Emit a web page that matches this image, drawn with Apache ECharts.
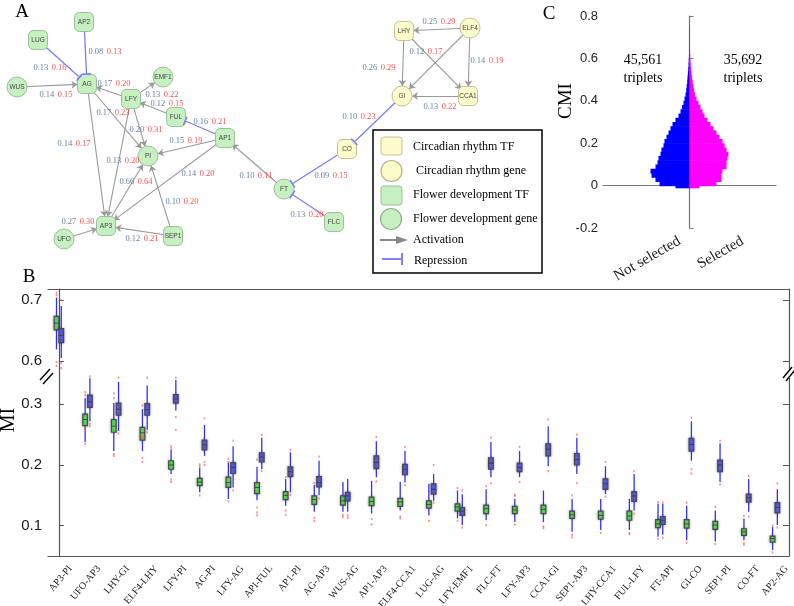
<!DOCTYPE html>
<html>
<head>
<meta charset="utf-8">
<script src="https://cdn.jsdelivr.net/npm/echarts@6/dist/echarts.min.js"></script>
<style>
  html, body { margin: 0; padding: 0; background: #fff; }
  #main { width: 794px; height: 606px; }
</style>
</head>
<body>
<div id="main"></div>
<script>
// ---- panel B : MI boxplots ----
var categories = ['AP3-PI', 'UFO-AP3', 'LHY-GI', 'ELF4-LHY', 'LFY-PI', 'AG-PI', 'LFY-AG', 'API-FUL', 'AP1-PI', 'AG-AP3',
  'WUS-AG', 'AP1-AP3', 'ELF4-CCA1', 'LUG-AG', 'LFY-EMF1', 'FLC-FT', 'LFY-AP3', 'CCA1-GI', 'SEP1-AP3', 'LHY-CCA1',
  'FUL-LFY', 'FT-API', 'GI-CO', 'SEP1-PI', 'CO-FT', 'AP2-AG'];

// [low whisker, q1, median, q3, high whisker]
var greenBoxes = [
  [0.619, 0.651, 0.662, 0.673, 0.704], [0.238, 0.265, 0.275, 0.284, 0.310], [0.223, 0.254, 0.264, 0.275, 0.302],
  [0.223, 0.241, 0.253, 0.262, 0.292], [0.185, 0.193, 0.200, 0.207, 0.226], [0.155, 0.166, 0.172, 0.178, 0.196],
  [0.144, 0.163, 0.171, 0.180, 0.204], [0.142, 0.153, 0.163, 0.171, 0.197], [0.133, 0.143, 0.150, 0.156, 0.177],
  [0.123, 0.135, 0.143, 0.149, 0.167], [0.123, 0.134, 0.141, 0.149, 0.172], [0.120, 0.133, 0.140, 0.147, 0.174],
  [0.125, 0.132, 0.139, 0.145, 0.172], [0.117, 0.129, 0.135, 0.141, 0.169], [0.112, 0.124, 0.131, 0.136, 0.158],
  [0.109, 0.120, 0.128, 0.134, 0.160], [0.106, 0.120, 0.126, 0.132, 0.144], [0.106, 0.120, 0.127, 0.134, 0.158],
  [0.090, 0.112, 0.118, 0.124, 0.144], [0.093, 0.111, 0.117, 0.124, 0.144], [0.093, 0.109, 0.116, 0.124, 0.144],
  [0.082, 0.097, 0.103, 0.110, 0.136], [0.076, 0.096, 0.103, 0.110, 0.133], [0.074, 0.094, 0.101, 0.107, 0.125],
  [0.076, 0.084, 0.090, 0.095, 0.112], [0.060, 0.073, 0.079, 0.083, 0.098]
];
var blueBoxes = [
  [0.605, 0.630, 0.642, 0.653, 0.690], [0.272, 0.295, 0.304, 0.315, 0.343], [0.256, 0.282, 0.292, 0.302, 0.337],
  [0.258, 0.282, 0.291, 0.301, 0.331], [0.290, 0.302, 0.309, 0.316, 0.340], [0.215, 0.225, 0.233, 0.241, 0.266],
  [0.163, 0.186, 0.196, 0.204, 0.231], [0.193, 0.205, 0.213, 0.220, 0.245], [0.155, 0.181, 0.189, 0.197, 0.221],
  [0.150, 0.164, 0.171, 0.181, 0.207], [0.123, 0.141, 0.149, 0.155, 0.177], [0.180, 0.194, 0.204, 0.215, 0.239],
  [0.171, 0.184, 0.193, 0.201, 0.223], [0.141, 0.152, 0.160, 0.169, 0.185], [0.101, 0.117, 0.124, 0.130, 0.152],
  [0.180, 0.193, 0.203, 0.212, 0.238], [0.180, 0.189, 0.196, 0.203, 0.223], [0.198, 0.215, 0.226, 0.235, 0.264],
  [0.185, 0.200, 0.209, 0.219, 0.245], [0.152, 0.160, 0.169, 0.177, 0.198], [0.125, 0.140, 0.149, 0.156, 0.185],
  [0.085, 0.102, 0.109, 0.115, 0.136], [0.207, 0.223, 0.234, 0.244, 0.272], [0.172, 0.189, 0.200, 0.208, 0.236],
  [0.123, 0.139, 0.146, 0.152, 0.177], [0.101, 0.121, 0.130, 0.138, 0.160]
];
// [category index, value]
var greenOutliers = [
  [0, 0.712], [0, 0.708], [0, 0.598], [0, 0.592], [1, 0.315], [1, 0.320], [1, 0.262], [1, 0.258], [1, 0.235],
  [2, 0.310], [2, 0.318], [2, 0.218], [2, 0.215], [3, 0.298], [3, 0.247], [3, 0.244], [3, 0.212], [3, 0.205],
  [4, 0.231], [4, 0.228], [4, 0.176], [4, 0.172], [5, 0.201], [5, 0.198], [5, 0.150], [6, 0.205], [6, 0.210], [6, 0.140],
  [7, 0.209], [7, 0.130], [7, 0.122], [7, 0.117], [8, 0.180], [8, 0.125], [8, 0.118], [9, 0.170], [9, 0.113], [9, 0.108],
  [10, 0.118], [10, 0.114], [11, 0.111], [11, 0.102], [12, 0.115], [12, 0.112], [13, 0.108], [14, 0.162], [14, 0.108],
  [15, 0.165], [15, 0.101], [16, 0.151], [16, 0.149], [16, 0.102], [17, 0.099], [17, 0.096], [18, 0.150], [18, 0.085],
  [18, 0.081], [19, 0.088], [20, 0.088], [20, 0.086], [21, 0.139], [21, 0.078], [22, 0.138], [22, 0.072], [23, 0.131],
  [23, 0.070], [24, 0.116], [24, 0.071], [24, 0.069], [25, 0.100], [25, 0.056]
];
var blueOutliers = [
  [0, 0.700], [0, 0.597], [0, 0.588], [1, 0.346], [1, 0.268], [1, 0.264], [2, 0.344], [2, 0.252], [3, 0.344], [3, 0.254],
  [4, 0.344], [4, 0.279], [4, 0.258], [5, 0.277], [5, 0.205], [5, 0.200], [6, 0.240], [6, 0.158], [7, 0.250], [7, 0.190],
  [8, 0.225], [8, 0.151], [9, 0.214], [9, 0.145], [10, 0.117], [10, 0.113], [11, 0.246], [11, 0.173], [12, 0.230], [12, 0.167],
  [13, 0.200], [13, 0.138], [14, 0.158], [14, 0.097], [15, 0.245], [15, 0.170], [16, 0.230], [16, 0.172], [17, 0.275], [17, 0.190],
  [18, 0.250], [18, 0.170], [19, 0.205], [19, 0.148], [20, 0.190], [20, 0.120], [21, 0.138], [21, 0.080], [22, 0.278], [22, 0.193],
  [22, 0.186], [23, 0.240], [23, 0.168], [24, 0.182], [24, 0.115], [25, 0.170], [25, 0.097]
];
var upperTicks = [0.6, 0.7];
var lowerTicks = [0.1, 0.2, 0.3];

// ---- panel C : CMI distributions ----
var cmiBinStart = [-0.01, 0, 0.02, 0.04, 0.06, 0.08, 0.10, 0.12, 0.14, 0.16, 0.18, 0.20, 0.22, 0.24, 0.26, 0.28, 0.30, 0.32, 0.34,
  0.36, 0.38, 0.40, 0.42, 0.44, 0.46, 0.48, 0.50, 0.52, 0.54, 0.56, 0.58, 0.60, 0.62, 0.64, 0.66, 0.68, 0.70, 0.72, 0.74];
var notSelectedDensity = [14, 30, 34, 38, 39, 34, 32, 31, 29, 28, 26, 25, 23, 21, 19, 17, 14, 11, 9,
  7.5, 6, 5, 4, 3.3, 2.8, 2.3, 2, 1.6, 1.3, 1, 0.8, 0.6, 0.5, 0.4, 0.35, 0.3, 0.25, 0.2, 0.15];
var selectedDensity = [10, 27, 32, 32, 33, 37, 37, 38, 39, 37, 35, 33, 30, 27, 24, 21, 18, 15, 13,
  11, 9, 7, 5.5, 4.5, 4, 3.2, 2.6, 2.1, 1.7, 1.3, 1, 0.8, 0.6, 0.5, 0.4, 0.3, 0.2, 0.1, 0];
var cGroups = ['Not selected', 'Selected'];
var cGroupAt = [-10, 53];
var cCounts = ['45,561', '35,692'];

// ---- panel A : network ----
var nodeNames = ['AP2', 'LUG', 'WUS', 'AG', 'EMF1', 'LFY', 'FUL', 'AP1', 'PI', 'AP3', 'UFO', 'SEP1',
  'LHY', 'ELF4', 'GI', 'CCA1', 'CO', 'FT', 'FLC'];
// ftf: flower development TF, fgene: flower development gene, ctf / cgene: circadian rhythm
var nodeKinds = ['ftf', 'ftf', 'fgene', 'ftf', 'fgene', 'ftf', 'ftf', 'ftf', 'fgene', 'ftf', 'fgene', 'ftf',
  'ctf', 'cgene', 'cgene', 'ctf', 'ctf', 'fgene', 'ftf'];
var nodePos = [[84, 22], [38, 40], [17, 87], [87, 84], [163, 77], [131, 99], [176, 117], [225, 138], [148, 156],
  [106, 226], [64, 239], [173, 236], [404, 31], [470, 28], [402, 96], [468, 96], [347, 149], [284, 189], [334, 222]];
// [source, target, type, MI, CMI]
var edges = [
  ['LUG', 'AG', 'rep', 0.13, 0.16], ['AP2', 'AG', 'rep', 0.08, 0.13], ['WUS', 'AG', 'act', 0.14, 0.15],
  ['LFY', 'AG', 'act', 0.17, 0.20], ['LFY', 'EMF1', 'act', 0.13, 0.22], ['FUL', 'LFY', 'act', 0.12, 0.15],
  ['AP1', 'FUL', 'rep', 0.16, 0.21], ['AG', 'PI', 'act', 0.17, 0.23], ['LFY', 'AP3', 'act', 0.13, 0.20],
  ['LFY', 'PI', 'act', 0.20, 0.31], ['AG', 'AP3', 'act', 0.14, 0.17], ['AP1', 'PI', 'act', 0.15, 0.19],
  ['AP3', 'PI', 'act', 0.66, 0.64], ['AP1', 'AP3', 'act', 0.14, 0.20], ['SEP1', 'PI', 'act', 0.10, 0.20],
  ['UFO', 'AP3', 'act', 0.27, 0.30], ['SEP1', 'AP3', 'act', 0.12, 0.21], ['FT', 'AP1', 'act', 0.10, 0.11],
  ['CO', 'FT', 'rep', 0.09, 0.15], ['FLC', 'FT', 'rep', 0.13, 0.20], ['GI', 'CO', 'rep', 0.10, 0.23],
  ['ELF4', 'LHY', 'act', 0.25, 0.29], ['LHY', 'GI', 'act', 0.26, 0.29], ['LHY', 'CCA1', 'act', 0.12, 0.17],
  ['ELF4', 'GI', 'act', null, null], ['ELF4', 'CCA1', 'act', 0.14, 0.19], ['CCA1', 'GI', 'act', 0.13, 0.22]
];
// label shift from the edge midpoint
var edgeLabelShift = [
  [-12.5, 6], [19.5, -1], [4, 9.5], [5, -7.5], [15, 7], [13.5, -4], [9.5, -5.5], [-4.5, -7], [4.5, -1.5],
  [6.5, 2.5], [-22.5, -11], [-0.5, -6], [9, -9], [32.5, -8], [21.5, 6], [-7, -10.5], [2.5, 8], [1.5, 12.5],
  [15.5, 7], [-2, 9.5], [-15.5, -5.5], [2, -7.5], [-24, 4.5], [-10, -11.5], null, [18, -1], [5, 11]
];

var SERIF = 'Liberation Serif';
var SANS = 'Liberation Sans';
var REP_COLOR = '#7c7cf7';

function boxRenderer(shift, fill) {
  return function (params, api) {
    var i = api.value(0);
    var band = api.size([1, 0])[0];
    var cx = api.coord([i, 0])[0] + shift * band;
    var half = band * 0.082;
    var yLo = api.coord([i, api.value(1)])[1];
    var yQ1 = api.coord([i, api.value(2)])[1];
    var yMed = api.coord([i, api.value(3)])[1];
    var yQ3 = api.coord([i, api.value(4)])[1];
    var yHi = api.coord([i, api.value(5)])[1];
    return {
      type: 'group',
      children: [
        { type: 'line', shape: { x1: cx, y1: yHi, x2: cx, y2: yLo }, style: { stroke: '#3030ff', lineWidth: 1.3 } },
        { type: 'rect', shape: { x: cx - half, y: yQ3, width: half * 2, height: yQ1 - yQ3 },
          style: { fill: fill, stroke: '#4a4a4a', lineWidth: 1.2, shadowBlur: 3, shadowColor: 'rgba(0,0,0,0.35)' } },
        { type: 'line', shape: { x1: cx - half, y1: yMed, x2: cx + half, y2: yMed }, style: { stroke: '#333', lineWidth: 0.8 } }
      ]
    };
  };
}

function violinRenderer(dir, color) {
  return function (params, api) {
    var a = api.coord([0, api.value(1)]);
    var b = api.coord([dir * api.value(2), api.value(0)]);
    return { type: 'rect', shape: { x: Math.min(a[0], b[0]), y: a[1], width: Math.abs(b[0] - a[0]), height: b[1] - a[1] + 0.6 },
      style: { fill: color } };
  };
}

// T-bar at the end of a repression edge
function tbarRenderer(params, api) {
  var p0 = api.coord([api.value(0), api.value(1)]);
  var p1 = api.coord([api.value(2), api.value(3)]);
  var dx = p1[0] - p0[0], dy = p1[1] - p0[1];
  var len = Math.sqrt(dx * dx + dy * dy);
  var ux = dx / len, uy = dy / len;
  var ex = p1[0] - ux * 10, ey = p1[1] - uy * 10;
  return { type: 'line', shape: { x1: ex - uy * 4.5, y1: ey + ux * 4.5, x2: ex + uy * 4.5, y2: ey - ux * 4.5 },
    style: { stroke: REP_COLOR, lineWidth: 1.5 } };
}

function boxData(boxes, upper) {
  var out = [];
  boxes.forEach(function (b, i) {
    if ((b[2] > 0.5) === upper) out.push([i].concat(b));
  });
  return out;
}
function outlierData(points, shift, upper) {
  return points.filter(function (p) { return (p[1] > 0.5) === upper; })
    .map(function (p) { return [p[0] + shift, p[1]]; });
}

var bins = cmiBinStart.map(function (s, k) {
  return k < cmiBinStart.length - 1 ? [s, cmiBinStart[k + 1]] : [s, s + 0.02];
});

var nodeStyle = {
  ftf: { symbol: 'roundRect', size: [19, 19], fill: '#c6f0c1', stroke: '#9dbf98' },
  fgene: { symbol: 'circle', size: 20, fill: '#c6f0c1', stroke: '#9dbf98' },
  ctf: { symbol: 'roundRect', size: [19, 19], fill: '#fdfbc9', stroke: '#c4c197' },
  cgene: { symbol: 'circle', size: 20, fill: '#fdfbc9', stroke: '#c4c197' }
};

function posOf(name) { return nodePos[nodeNames.indexOf(name)]; }

var edgeLabelData = [];
var tbarData = [];
edges.forEach(function (e, k) {
  var a = posOf(e[0]), b = posOf(e[1]);
  if (e[2] === 'rep') tbarData.push([a[0], a[1], b[0], b[1]]);
  if (e[3] == null) return;
  var s = edgeLabelShift[k];
  edgeLabelData.push([(a[0] + b[0]) / 2 + s[0], (a[1] + b[1]) / 2 + s[1], k]);
});

var frame = { show: true, lineStyle: { color: '#555', width: 1.2 } };
var tickLbl = { fontFamily: SANS, fontSize: 15, color: '#1a1a1a', margin: 6 };

var chart = echarts.init(document.getElementById('main'));
chart.setOption({
  animation: false,
  backgroundColor: '#fff',
  grid: [
    { left: 48, right: 5, top: 289, height: 86, outerBoundsMode: 'none', containLabel: false },
    { left: 48, right: 5, top: 375, height: 181, outerBoundsMode: 'none', containLabel: false },
    { left: 603, right: 18, top: 16, height: 212, outerBoundsMode: 'none', containLabel: false },
    { left: 0, top: 0, width: 794, height: 606, outerBoundsMode: 'none', containLabel: false }
  ],
  xAxis: [
    { gridIndex: 0, type: 'value', min: -0.38, max: 25.49, position: 'top', axisLine: frame,
      axisTick: { show: false }, axisLabel: { show: false }, splitLine: { show: false } },
    { gridIndex: 1, type: 'value', min: -0.38, max: 25.49, position: 'bottom', axisLine: frame,
      axisTick: { show: false }, splitLine: { show: false },
      axisLabel: { show: true, customValues: categories.map(function (c, i) { return i + 0.4; }),
        formatter: function (v) { return categories[Math.round(v - 0.4)] || ''; },
        rotate: 50, margin: 11, fontFamily: SERIF, fontSize: 10, color: '#222', hideOverlap: false } },
    { gridIndex: 2, type: 'value', min: -86.5, max: 86.5, axisLine: { show: true, lineStyle: { color: '#777', width: 1.2 } },
      axisTick: { customValues: [0], inside: true, length: 4, lineStyle: { color: '#777' } }, splitLine: { show: false },
      axisLabel: { show: true, customValues: cGroupAt,
        formatter: function (v) { return cGroups[cGroupAt.indexOf(Math.round(v))] || ''; },
        rotate: 30, margin: 12, fontFamily: SERIF, fontSize: 15, color: '#222', hideOverlap: false } },
    { gridIndex: 3, type: 'value', min: 0, max: 794, show: false }
  ],
  yAxis: [
    { gridIndex: 0, type: 'value', min: 0.577, max: 0.718, axisLine: frame, splitLine: { show: false },
      axisTick: { customValues: upperTicks, inside: true, length: 5, lineStyle: { color: '#555' } },
      axisLabel: Object.assign({ customValues: upperTicks }, tickLbl) },
    { gridIndex: 0, type: 'value', min: 0.577, max: 0.718, position: 'right', axisLine: frame, splitLine: { show: false },
      axisTick: { customValues: upperTicks, inside: true, length: 6, lineStyle: { color: '#555' } }, axisLabel: { show: false } },
    { gridIndex: 1, type: 'value', min: 0.0501, max: 0.3483, axisLine: frame, splitLine: { show: false },
      axisTick: { customValues: lowerTicks, inside: true, length: 5, lineStyle: { color: '#555' } },
      axisLabel: Object.assign({ customValues: lowerTicks }, tickLbl) },
    { gridIndex: 1, type: 'value', min: 0.0501, max: 0.3483, position: 'right', axisLine: frame, splitLine: { show: false },
      axisTick: { customValues: lowerTicks, inside: true, length: 6, lineStyle: { color: '#555' } }, axisLabel: { show: false } },
    { gridIndex: 2, type: 'value', min: -0.2, max: 0.8, interval: 0.2, splitLine: { show: false },
      axisLine: { show: true, lineStyle: { color: '#777', width: 1.2 } },
      axisTick: { inside: true, length: 4, lineStyle: { color: '#777' } },
      axisLabel: { fontFamily: SANS, fontSize: 13, color: '#222', margin: 5,
        formatter: function (v) { return String(Math.round(v * 10) / 10); } } },
    { gridIndex: 3, type: 'value', min: 0, max: 606, inverse: true, show: false }
  ],
  series: [
    // B upper part
    { type: 'custom', xAxisIndex: 0, yAxisIndex: 0, clip: true, renderItem: boxRenderer(-0.083, '#5be65b'),
      encode: { x: 0, y: [1, 2, 3, 4, 5] }, data: boxData(greenBoxes, true), z: 3 },
    { type: 'custom', xAxisIndex: 0, yAxisIndex: 0, clip: true, renderItem: boxRenderer(0.083, '#5f5ff5'),
      encode: { x: 0, y: [1, 2, 3, 4, 5] }, data: boxData(blueBoxes, true), z: 3 },
    { type: 'scatter', xAxisIndex: 0, yAxisIndex: 0, symbol: 'rect', symbolSize: [1.6, 2.2],
      itemStyle: { color: '#ff5050', opacity: 0.65 }, data: outlierData(greenOutliers, -0.083, true), z: 4 },
    { type: 'scatter', xAxisIndex: 0, yAxisIndex: 0, symbol: 'rect', symbolSize: [1.6, 2.2],
      itemStyle: { color: '#ff5050', opacity: 0.65 }, data: outlierData(blueOutliers, 0.083, true), z: 4 },
    // B lower part
    { type: 'custom', xAxisIndex: 1, yAxisIndex: 2, clip: true, renderItem: boxRenderer(-0.083, '#5be65b'),
      encode: { x: 0, y: [1, 2, 3, 4, 5] }, data: boxData(greenBoxes, false), z: 3 },
    { type: 'custom', xAxisIndex: 1, yAxisIndex: 2, clip: true, renderItem: boxRenderer(0.083, '#5f5ff5'),
      encode: { x: 0, y: [1, 2, 3, 4, 5] }, data: boxData(blueBoxes, false), z: 3 },
    { type: 'scatter', xAxisIndex: 1, yAxisIndex: 2, symbol: 'rect', symbolSize: [1.6, 2.2],
      itemStyle: { color: '#ff5050', opacity: 0.65 }, data: outlierData(greenOutliers, -0.083, false), z: 4 },
    { type: 'scatter', xAxisIndex: 1, yAxisIndex: 2, symbol: 'rect', symbolSize: [1.6, 2.2],
      itemStyle: { color: '#ff5050', opacity: 0.65 }, data: outlierData(blueOutliers, 0.083, false), z: 4 },
    // C
    { type: 'custom', xAxisIndex: 2, yAxisIndex: 4, renderItem: violinRenderer(-1, '#0000ff'),
      encode: { x: 2, y: [0, 1] },
      data: bins.map(function (b, k) { return [b[0], b[1], notSelectedDensity[k]]; }) },
    { type: 'custom', xAxisIndex: 2, yAxisIndex: 4, renderItem: violinRenderer(1, '#ff00ff'),
      encode: { x: 2, y: [0, 1] },
      data: bins.map(function (b, k) { return [b[0], b[1], selectedDensity[k]]; }) },
    // A network
    { type: 'graph', coordinateSystem: 'cartesian2d', xAxisIndex: 3, yAxisIndex: 5, silent: true, z: 5,
      data: nodeNames.map(function (n, i) {
        var st = nodeStyle[nodeKinds[i]];
        return { name: n, value: nodePos[i], symbol: st.symbol, symbolSize: st.size,
          itemStyle: { color: st.fill, borderColor: st.stroke, borderWidth: 1 } };
      }),
      links: edges.map(function (e) {
        var rep = e[2] === 'rep';
        return { source: e[0], target: e[1], symbol: ['none', rep ? 'none' : 'arrow'], symbolSize: [0, 6],
          lineStyle: { color: rep ? REP_COLOR : '#9a9a9a', width: rep ? 1.3 : 1.1, opacity: 1 } };
      }),
      label: { show: true, position: 'inside', fontFamily: SANS, fontSize: 6.5, color: '#444' },
      lineStyle: { curveness: 0 }
    },
    { type: 'custom', xAxisIndex: 3, yAxisIndex: 5, silent: true, z: 6, renderItem: tbarRenderer,
      encode: { x: [0, 2], y: [1, 3] }, data: tbarData },
    { type: 'scatter', xAxisIndex: 3, yAxisIndex: 5, silent: true, symbolSize: 1, z: 6,
      itemStyle: { color: 'transparent' },
      label: { show: true, position: 'inside',
        formatter: function (p) {
          var e = edges[p.value[2]];
          return '{a|' + e[3].toFixed(2) + '} {b|' + e[4].toFixed(2) + '}';
        },
        rich: { a: { fontFamily: SERIF, fontSize: 8.5, color: '#3d5f8f' }, b: { fontFamily: SERIF, fontSize: 8.5, color: '#ff2424' } } },
      data: edgeLabelData }
  ],
  graphic: [
    // panel letters
    { type: 'text', x: 22, y: 12, z: 100, style: { text: 'A', font: '19px "Liberation Serif"', fill: '#000', textAlign: 'center', textVerticalAlign: 'middle' } },
    { type: 'text', x: 29, y: 277, z: 100, style: { text: 'B', font: '19px "Liberation Serif"', fill: '#000', textAlign: 'center', textVerticalAlign: 'middle' } },
    { type: 'text', x: 549, y: 14, z: 100, style: { text: 'C', font: '19px "Liberation Serif"', fill: '#000', textAlign: 'center', textVerticalAlign: 'middle' } },
    // axis titles
    { type: 'text', x: 9, y: 420, rotation: Math.PI / 2, z: 100, style: { text: 'MI', font: '20px "Liberation Serif"', fill: '#000', textAlign: 'center', textVerticalAlign: 'middle' } },
    { type: 'text', x: 566, y: 101, rotation: Math.PI / 2, z: 100, style: { text: 'CMI', font: '19px "Liberation Serif"', fill: '#000', textAlign: 'center', textVerticalAlign: 'middle' } },
    // C counts
    { type: 'text', x: 643, y: 69, z: 100, style: { text: cCounts[0] + '\ntriplets', font: '14px "Liberation Serif"', fill: '#000', textAlign: 'center', textVerticalAlign: 'middle', lineHeight: 18 } },
    { type: 'text', x: 743, y: 69, z: 100, style: { text: cCounts[1] + '\ntriplets', font: '14px "Liberation Serif"', fill: '#000', textAlign: 'center', textVerticalAlign: 'middle', lineHeight: 18 } },
    // axis break marks
    { type: 'rect', z: 100, shape: { x: 44, y: 371, width: 9, height: 9 }, style: { fill: '#fff' } },
    { type: 'line', z: 101, shape: { x1: 40, y1: 380, x2: 50, y2: 369 }, style: { stroke: '#000', lineWidth: 1.4 } },
    { type: 'line', z: 101, shape: { x1: 43, y1: 384, x2: 53, y2: 373 }, style: { stroke: '#000', lineWidth: 1.4 } },
    { type: 'rect', z: 100, shape: { x: 785, y: 369, width: 9, height: 9 }, style: { fill: '#fff' } },
    { type: 'line', z: 101, shape: { x1: 783, y1: 378, x2: 792, y2: 367 }, style: { stroke: '#000', lineWidth: 1.4 } },
    { type: 'line', z: 101, shape: { x1: 786, y1: 381, x2: 795, y2: 370 }, style: { stroke: '#000', lineWidth: 1.4 } },
    // legend of panel A
    { type: 'rect', z: 100, shape: { x: 373, y: 130, width: 169, height: 143 }, style: { fill: '#fff', stroke: '#000', lineWidth: 1.5 } },
    { type: 'rect', z: 101, shape: { x: 381, y: 137, width: 21, height: 18, r: 3 }, style: { fill: '#fdfbc9', stroke: '#c4c197' } },
    { type: 'circle', z: 101, shape: { cx: 391.5, cy: 171, r: 10.5 }, style: { fill: '#fdfbc9', stroke: '#b5b28a', lineWidth: 1.2 } },
    { type: 'rect', z: 101, shape: { x: 381, y: 186, width: 21, height: 19, r: 3 }, style: { fill: '#c6f0c1', stroke: '#9dbf98' } },
    { type: 'circle', z: 101, shape: { cx: 391, cy: 219, r: 10.5 }, style: { fill: '#c6f0c1', stroke: '#8fae8a', lineWidth: 1.2 } },
    { type: 'line', z: 101, shape: { x1: 380, y1: 240, x2: 398, y2: 240 }, style: { stroke: '#8a8a8a', lineWidth: 2 } },
    { type: 'polygon', z: 101, shape: { points: [[396, 236], [408, 240], [396, 244]] }, style: { fill: '#8a8a8a' } },
    { type: 'line', z: 101, shape: { x1: 382, y1: 259, x2: 402, y2: 259 }, style: { stroke: '#8080ff', lineWidth: 2 } },
    { type: 'line', z: 101, shape: { x1: 402, y1: 253, x2: 402, y2: 265 }, style: { stroke: '#8080ff', lineWidth: 2 } },
    { type: 'text', x: 413, y: 147, z: 101, style: { text: 'Circadian rhythm TF', font: '12px "Liberation Serif"', fill: '#000', textVerticalAlign: 'middle' } },
    { type: 'text', x: 416, y: 171, z: 101, style: { text: 'Circadian rhythm gene', font: '12px "Liberation Serif"', fill: '#000', textVerticalAlign: 'middle' } },
    { type: 'text', x: 413, y: 195, z: 101, style: { text: 'Flower development TF', font: '12px "Liberation Serif"', fill: '#000', textVerticalAlign: 'middle' } },
    { type: 'text', x: 413, y: 219, z: 101, style: { text: 'Flower development gene', font: '12px "Liberation Serif"', fill: '#000', textVerticalAlign: 'middle' } },
    { type: 'text', x: 413, y: 240, z: 101, style: { text: 'Activation', font: '12px "Liberation Serif"', fill: '#000', textVerticalAlign: 'middle' } },
    { type: 'text', x: 414, y: 261, z: 101, style: { text: 'Repression', font: '12px "Liberation Serif"', fill: '#000', textVerticalAlign: 'middle' } }
  ]
});
</script>
</body>
</html>
